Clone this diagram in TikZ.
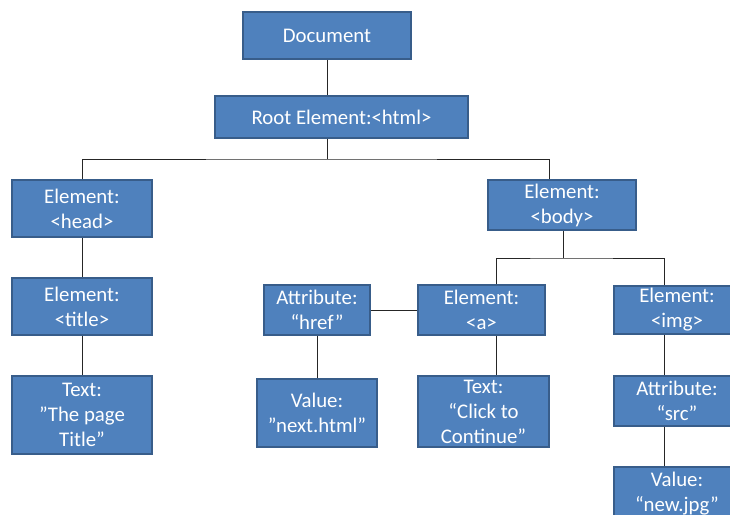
\documentclass[tikz,border=0pt]{standalone}
\usepackage{fontspec}
\setmainfont{Carlito}
\usepackage{xcolor}
\usepackage{tikz}
\definecolor{boxfill}{HTML}{4F81BD}
\definecolor{boxline}{HTML}{385D8A}

\begin{document}
\begin{tikzpicture}[x=1pt,y=-1pt,
  dom/.style={draw=boxline,line width=1.5pt,fill=boxfill,text=white,align=center,
    inner sep=0pt,font=\fontsize{20.8}{25}\selectfont},
  link/.style={draw=black!85,line width=0.9pt}]
\useasboundingbox (0,0) rectangle (730,514);
\clip (0,0) rectangle (730,514);

% 第1层 Document
\node[dom,minimum width=168,minimum height=47] (doc) at (327,35.5) {Document};

% 第2层 根元素
\node[dom,minimum width=253,minimum height=42] (root) at (341.5,117) {Root Element:<html>};

% 第3层
\node[dom,minimum width=140,minimum height=57] (head) at (82,208.5) {Element:\\<head>};
\node[dom,minimum width=148,minimum height=50] (body) at (562,205) {Element:\\<body>};

% 第4层
\node[dom,minimum width=140,minimum height=57] (title) at (82,306.5) {Element:\\<title>};
\node[dom,minimum width=106,minimum height=50] (href) at (317,310) {Attribute:\\“href”};
\node[dom,minimum width=127,minimum height=50] (a) at (481.5,310) {Element:\\<a>};
\node[dom,minimum width=126,minimum height=48] (img) at (677,310) {Element:\\<img>};

% 第5层
\node[dom,minimum width=140,minimum height=78] (ttext) at (82,415) {Text:\\”The page\\Title”};
\node[dom,minimum width=120,minimum height=68] (val) at (317,413) {Value:\\”next.html”};
\node[dom,minimum width=131,minimum height=71] (ctext) at (483.5,411.5) {Text:\\“Click to\\Continue”};
\node[dom,minimum width=126,minimum height=50] (src) at (677,401) {Attribute:\\“src”};

% 第6层
\node[dom,minimum width=126,minimum height=54] (jpg) at (677,494) {Value:\\“new.jpg”};

% 分支点
\coordinate (bus) at (327,159);
\coordinate (bus2) at (563,258);

% ========== 连线 ==========
% Document -> html
\draw[link] (doc) -- (doc |- root.north);
\draw[link] (doc |- root.south) -- (bus);
\draw[link] (head.north) |- (bus) -| ([xshift=-13pt]body.north);

% head 一支
\draw[link] (head) -- (title);
\draw[link] (title) -- (ttext);

% body 一支
\draw[link] (body.south -| bus2) -- (bus2);
\draw[link] ([xshift=14.5pt]a.north) |- (bus2) -| ([xshift=-13pt]img.north);

% a 一支
\draw[link] (href) -- (a);
\draw[link] (href) -- (val);
\draw[link] ([xshift=14.5pt]a.south) -- ([xshift=14.5pt]a.south |- ctext.north);

% img 一支
\draw[link] ([xshift=-13pt]img.south) -- ([xshift=-13pt]src.north);
\draw[link] ([xshift=-13pt]src.south) -- ([xshift=-13pt]jpg.north);
\end{tikzpicture}
\end{document}
